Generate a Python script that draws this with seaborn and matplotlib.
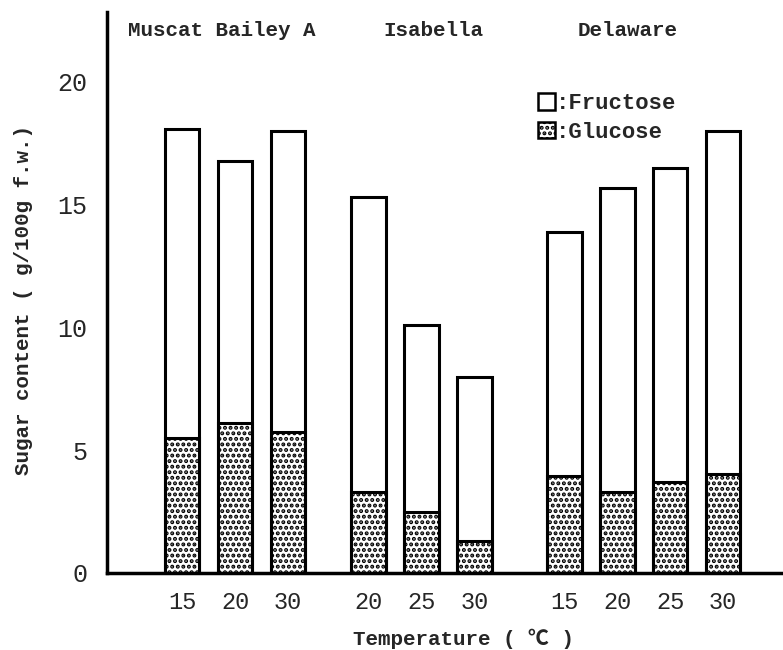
import numpy as np
import pandas as pd
import matplotlib
matplotlib.use("Agg")
import matplotlib.pyplot as plt
import seaborn as sns
from matplotlib.patches import Patch

sns.set_theme(style="white")
plt.rcParams['font.family'] = ['Liberation Mono', 'DejaVu Sans Mono', 'Noto Sans CJK JP']
plt.rcParams['hatch.linewidth'] = 2.0

# data
cultivars = ["Muscat Bailey A", "Isabella", "Delaware"]
temps = [["15", "20", "30"], ["20", "25", "30"], ["15", "20", "25", "30"]]
total = [[18.1, 16.8, 18.0], [15.3, 10.1, 8.0], [13.9, 15.7, 16.5, 18.0]]
glucose = [[5.5, 6.1, 5.75], [3.3, 2.5, 1.3], [3.95, 3.3, 3.7, 4.05]]

# layout: bar positions with gaps between cultivars
group_start = [0.0, 3.52, 7.22]
rows = []
for g, name in enumerate(cultivars):
    for i, t in enumerate(temps[g]):
        rows.append({"cultivar": name, "temp": t, "pos": group_start[g] + i * 1.0,
                     "total": total[g][i], "glucose": glucose[g][i]})
df = pd.DataFrame(rows)

fig = plt.figure(figsize=(7.83, 6.5), dpi=100)
ax = fig.add_axes([0.1367, 0.1185, 0.8633, 0.863])

# total bar (fructose on top) drawn first, glucose drawn over it
sns.barplot(data=df, x="pos", y="total", native_scale=True, width=0.65,
            color="white", edgecolor="black", linewidth=2.2, ax=ax)
sns.barplot(data=df, x="pos", y="glucose", native_scale=True, width=0.65,
            color="white", edgecolor="black", linewidth=2.2, hatch="...", ax=ax)

ax.set_xlim(-1.42, 11.35)
ax.set_ylim(0, 22.85)
ax.set_xticks(df["pos"])
ax.set_xticklabels(df["temp"], fontsize=17)
ax.set_yticks([0, 5, 10, 15, 20])
ax.set_yticklabels(["0", "5", "10", "15", "20"], fontsize=18)
ax.tick_params(axis="y", direction="in", length=8, width=2, pad=14)
ax.tick_params(axis="x", length=0, pad=13)

for s in ["top", "right"]:
    ax.spines[s].set_visible(False)
for s in ["left", "bottom"]:
    ax.spines[s].set_linewidth(2.5)
    ax.spines[s].set_color("black")

ax.set_xlabel("Temperature ( \u2103 )", fontsize=15, fontweight="bold")
ax.xaxis.set_label_coords(0.527, -0.1)
ax.set_ylabel("Sugar content ( g/100g f.w.)", fontsize=15, fontweight="bold")
ax.yaxis.set_label_coords(-0.109, 0.487)

label_x = [0.755, 4.75, 8.42]
for name, lx in zip(cultivars, label_x):
    ax.text(lx, 22.1, name, fontsize=15, fontweight="bold", ha="center", va="center")

handles = [Patch(facecolor="white", edgecolor="black", linewidth=1.8),
           Patch(facecolor="white", edgecolor="black", linewidth=1.8, hatch="...")]
leg = ax.legend(handles, [":Fructose", ":Glucose"], loc="upper left",
                bbox_to_anchor=(0.621, 0.875), frameon=False, borderpad=0,
                handlelength=0.75, handleheight=0.75, handletextpad=0.05,
                labelspacing=0.35, prop={"weight": "bold", "size": 16})

fig.savefig("out.png", dpi=100)
